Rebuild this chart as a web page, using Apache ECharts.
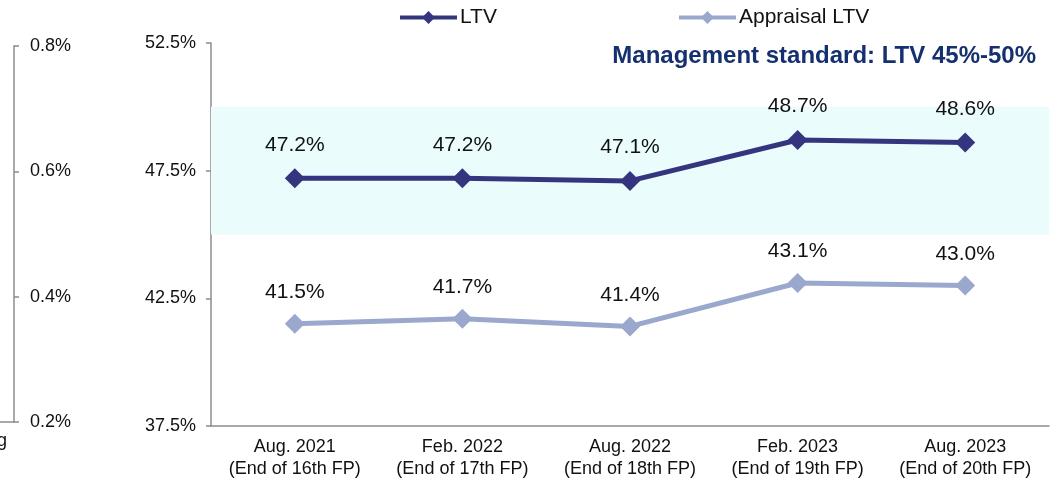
<!DOCTYPE html>
<html>
<head>
  <meta charset="utf-8">
  <title>LTV</title>
  <script src="https://cdn.jsdelivr.net/npm/echarts@6/dist/echarts.min.js"></script>
  <style>
    body { margin: 0; padding: 0; background: #fff; }
    #main { width: 1056px; height: 483px; }
  </style>
</head>
<body>
<div id="main"></div>
<script>
  // data
  var categories = [
    'Aug. 2021\n(End of 16th FP)',
    'Feb. 2022\n(End of 17th FP)',
    'Aug. 2022\n(End of 18th FP)',
    'Feb. 2023\n(End of 19th FP)',
    'Aug. 2023\n(End of 20th FP)'
  ];
  var ltv = [47.2, 47.2, 47.1, 48.7, 48.6];
  var appraisalLtv = [41.5, 41.7, 41.4, 43.1, 43.0];
  var standardBand = [45, 50];
  var leftAxisRange = [0.2, 0.8];

  var FONT = '"Liberation Sans", Arial, sans-serif';
  var axisGray = '#8c8c8c';

  var myChart = echarts.init(document.getElementById('main'));
  var option = {
    animation: false,
    textStyle: { fontFamily: FONT },
    legend: {
      top: 2,
      left: 393,
      itemWidth: 57,
      itemHeight: 16,
      itemGap: 180,
      lineStyle: { width: 4 },
      textStyle: { fontSize: 21, color: '#111', fontFamily: FONT, padding: [0, 0, 0, -2] },
      data: ['LTV', 'Appraisal LTV']
    },
    title: {
      text: 'Management standard: LTV 45%-50%',
      right: 15,
      top: 39,
      textStyle: { fontSize: 24, fontWeight: 'bold', color: '#14306e', fontFamily: FONT }
    },
    // cut-off label of the neighbouring chart
    graphic: [{
      type: 'text',
      left: -49,
      top: 432,
      style: { text: 'Ending', font: '18px ' + FONT, fill: '#111', textAlign: 'left' }
    }],
    grid: [
      { left: 211, right: 7, top: 43, bottom: 57, outerBoundsMode: 'none' },
      { left: -60, width: 74, top: 46, bottom: 61, outerBoundsMode: 'none' }
    ],
    xAxis: [{
      gridIndex: 0,
      type: 'category',
      data: categories,
      boundaryGap: true,
      axisLine: { lineStyle: { color: axisGray, width: 1.5 } },
      axisTick: { length: 5, lineStyle: { color: axisGray, width: 1.5 } },
      axisLabel: { color: '#111', fontSize: 18, lineHeight: 22, margin: 10, interval: 0 }
    }, {
      gridIndex: 1,
      type: 'category',
      data: [''],
      axisLine: { lineStyle: { color: axisGray, width: 1.5 } },
      axisTick: { show: false },
      axisLabel: { show: false }
    }],
    yAxis: [{
      gridIndex: 0,
      type: 'value',
      min: 37.5,
      max: 52.5,
      interval: 5,
      axisLine: { show: true, lineStyle: { color: axisGray, width: 1.5 } },
      axisTick: { show: true, length: 5, lineStyle: { color: axisGray, width: 1.5 } },
      splitLine: { show: false },
      axisLabel: {
        color: '#111', fontSize: 18, margin: 15,
        formatter: function (v) { return v.toFixed(1) + '%'; }
      }
    }, {
      gridIndex: 1,
      type: 'value',
      position: 'right',
      min: leftAxisRange[0],
      max: leftAxisRange[1],
      interval: 0.2,
      axisLine: { show: true, lineStyle: { color: axisGray, width: 1.5 } },
      axisTick: { show: true, length: 5, lineStyle: { color: axisGray, width: 1.5 } },
      splitLine: { show: false },
      axisLabel: {
        color: '#111', fontSize: 18, margin: 16,
        formatter: function (v) { return v.toFixed(1) + '%'; }
      }
    }],
    series: [
      {
        name: 'LTV',
        type: 'line',
        data: ltv,
        symbol: 'diamond',
        symbolSize: 20,
        lineStyle: { color: '#35347f', width: 5 },
        itemStyle: { color: '#35347f' },
        label: {
          show: true, position: 'top', distance: 13,
          fontSize: 21, color: '#111',
          formatter: function (p) { return p.value.toFixed(1) + '%'; }
        },
        markArea: {
          silent: true,
          itemStyle: { color: '#eafcfc' },
          data: [[{ yAxis: standardBand[0] }, { yAxis: standardBand[1] }]]
        },
        z: 3
      },
      {
        name: 'Appraisal LTV',
        type: 'line',
        data: appraisalLtv,
        symbol: 'diamond',
        symbolSize: 20,
        lineStyle: { color: '#9aa8ce', width: 5 },
        itemStyle: { color: '#9aa8ce' },
        label: {
          show: true, position: 'top', distance: 11,
          fontSize: 21, color: '#111',
          formatter: function (p) { return p.value.toFixed(1) + '%'; }
        },
        z: 2
      }
    ]
  };
  myChart.setOption(option);
  window.addEventListener('resize', function () {
    myChart.resize();
  });
</script>
</body>
</html>
